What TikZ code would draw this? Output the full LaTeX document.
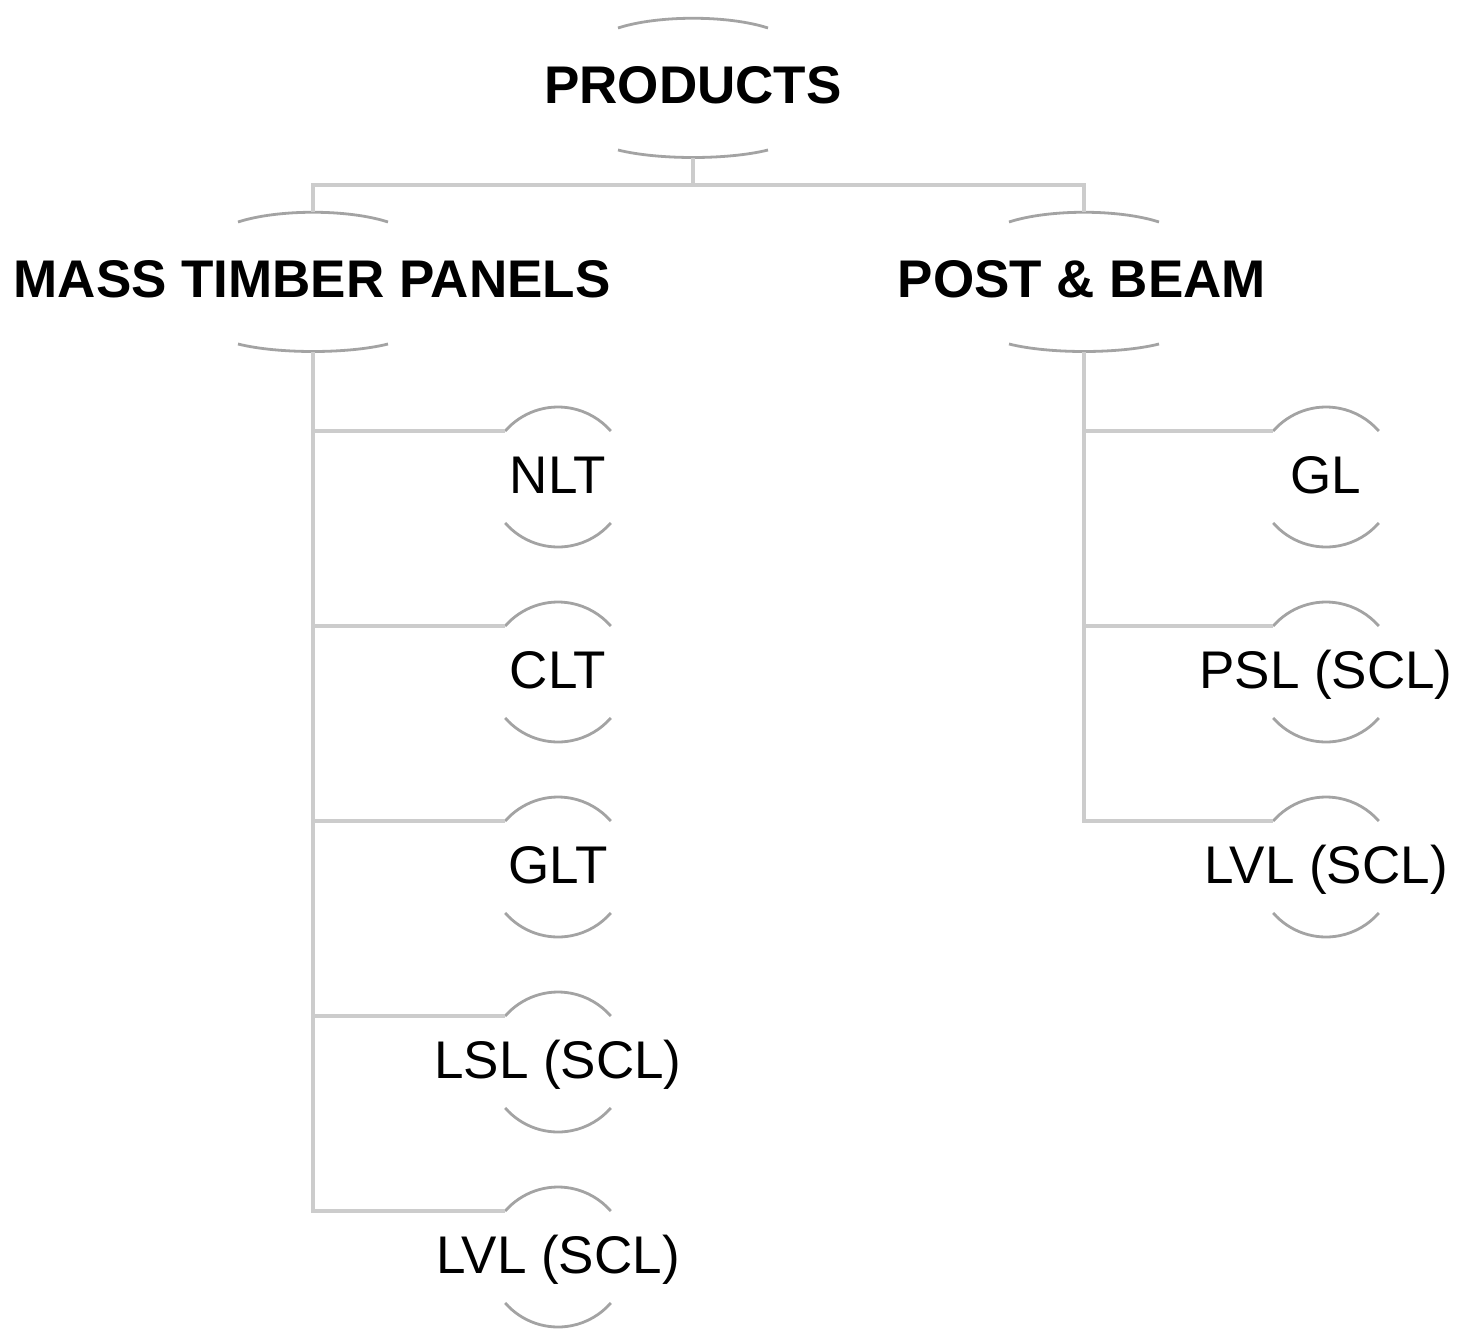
\documentclass[tikz,border=0pt]{standalone}
\usepackage{fontspec}
\setmainfont{Liberation Sans}
\begin{document}
\begin{tikzpicture}[x=1pt,y=-1pt,
  conn/.style={draw=black!20,line width=4.5pt},
  arcline/.style={draw=black!36,line width=2.8pt},
  bigfont/.style={font=\fontsize{53}{60}\selectfont\bfseries},
  smallfont/.style={font=\fontsize{53}{60}\selectfont},
  wide/.style={rectangle,minimum width=150pt,minimum height=122pt,inner sep=0pt,outer sep=0pt},
  ring/.style={circle,minimum size=140pt,inner sep=0pt,outer sep=0pt},
  lbl/.style={anchor=base,inner sep=0pt}
]
\useasboundingbox (0,0) rectangle (1459,1330);

% ---- wide nodes (top level and second level)
\node[wide] (P) at (693,89) {};
\node[wide] (M) at (313,283) {};
\node[wide] (B) at (1084,283) {};
\node[lbl,bigfont] (Ptxt) at (693,103) {PRODUCTS};
\node[lbl,bigfont] (Mtxt) at (312,297) {MASS TIMBER PANELS};
\node[lbl,bigfont] (Btxt) at (1082,297) {POST \& BEAM};

\foreach \n in {P,M,B}{
  \draw[arcline] (\n.north west) .. controls ([xshift=40pt,yshift=13pt]\n.north west) and ([xshift=-40pt,yshift=13pt]\n.north east) .. (\n.north east);
  \draw[arcline] (\n.south west) .. controls ([xshift=40pt,yshift=-10pt]\n.south west) and ([xshift=-40pt,yshift=-10pt]\n.south east) .. (\n.south east);
  \coordinate (\n t) at ([yshift=10pt]\n.north);
  \coordinate (\n b) at ([yshift=-8pt]\n.south);
}

% ---- leaf nodes
\node[ring] (nlt)  at (558,477) {};
\node[ring] (clt)  at (558,672) {};
\node[ring] (glt)  at (558,867) {};
\node[ring] (lsl)  at (558,1062) {};
\node[ring] (lvla) at (558,1257) {};
\node[ring] (gl)   at (1326,477) {};
\node[ring] (psl)  at (1326,672) {};
\node[ring] (lvlb) at (1326,867) {};

\node[lbl,smallfont] (nlttxt)  at (558,493) {NLT};
\node[lbl,smallfont] (clttxt)  at (558,688) {CLT};
\node[lbl,smallfont] (glttxt)  at (558,883) {GLT};
\node[lbl,smallfont] (lsltxt)  at (558,1078) {LSL (SCL)};
\node[lbl,smallfont] (lvlatxt) at (558,1273) {LVL (SCL)};
\node[lbl,smallfont] (gltxt)   at (1326,493) {GL};
\node[lbl,smallfont] (psltxt)  at (1326,688) {PSL (SCL)};
\node[lbl,smallfont] (lvlbtxt) at (1326,883) {LVL (SCL)};

\foreach \n in {nlt,clt,glt,lsl,lvla,gl,psl,lvlb}{
  \draw[arcline] (\n.139) arc[start angle=139,end angle=41,radius=70pt];
  \draw[arcline] (\n.221) arc[start angle=221,end angle=319,radius=70pt];
}

% ---- connectors
\coordinate (bus) at (693,185);
\draw[conn] (Pb) -- (bus);
\draw[conn] (Mt) -- (Mt |- bus) -- (Bt |- bus) -- (Bt);

\draw[conn] (Mb) |- (lvla.139);
\foreach \n in {nlt,clt,glt,lsl}{
  \draw[conn] (Mb |- \n.139) -- (\n.139);
}
\draw[conn] (Bb) |- (lvlb.139);
\foreach \n in {gl,psl}{
  \draw[conn] (Bb |- \n.139) -- (\n.139);
}
\end{tikzpicture}
\end{document}
